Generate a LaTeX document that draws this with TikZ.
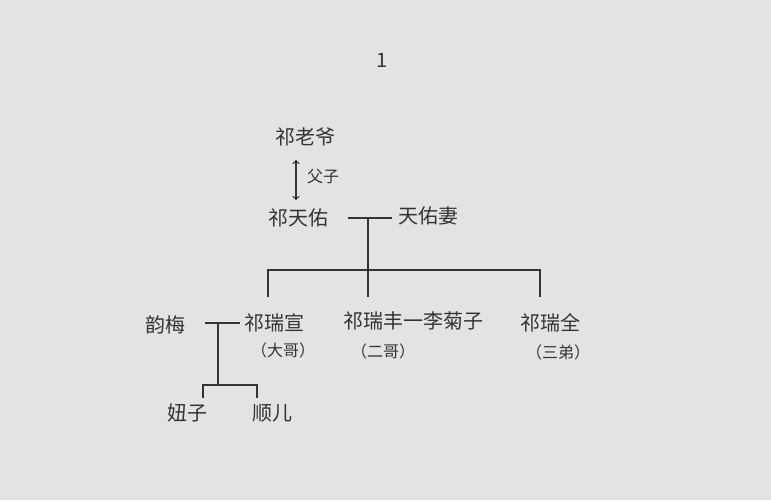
\documentclass[tikz,border=0pt]{standalone}
\usepackage{fontspec}
\newfontfamily\cjk{Noto Sans CJK SC}
\begin{document}
\begin{tikzpicture}[x=0.75pt,y=-0.75pt,
  lbl/.style={font=\cjk\fontsize{15}{17}\selectfont, text=black!80, inner sep=1pt},
  small/.style={font=\cjk\fontsize{12}{14}\selectfont, text=black!80, inner sep=1pt},
  ln/.style={draw=black!80, line width=1pt}]
\fill[gray!22] (0,0) rectangle (771,500);
\useasboundingbox (0,0) rectangle (771,500);
\node[lbl] (num) at (382,60) {1};
\node[lbl] (lao) at (305,137) {祁老爷};
\coordinate (a1) at (296,160);
\coordinate (a2) at (296,200);
\draw[ln,<->] (a1) -- (a2);
\node[small] (fz) at (323,176) {父子};
\node[lbl] (tianyou) at (298,218) {祁天佑};
\node[lbl] (qi) at (428,216) {天佑妻};
\coordinate (m1) at (348,218);
\coordinate (m2) at (392,218);
\draw[ln] (m1) -- (m2);
\coordinate (mid) at (368,218);
\coordinate (bar) at (368,270);
\draw[ln] (mid) -- (bar);
\node[lbl] (xuan) at (274,323) {祁瑞宣};
\node[small] (xuan2) at (283,350) {（大哥）};
\node[lbl] (feng) at (413,321) {祁瑞丰一李菊子};
\node[small] (feng2) at (383,351) {（二哥）};
\node[lbl] (quan) at (550,323) {祁瑞全};
\node[small] (quan2) at (558,352) {（三弟）};
\draw[ln] (268,297) -- (268,270) -- (540,270) -- (540,297);
\draw[ln] (bar) -- (368,297);
\node[lbl] (yun) at (165,325) {韵梅};
\coordinate (y1) at (205,323);
\coordinate (y2) at (240,323);
\draw[ln] (y1) -- (y2);
\coordinate (k1) at (218,323);
\coordinate (k2) at (218,385);
\draw[ln] (k1) -- (k2);
\node[lbl] (niu) at (187,413) {妞子};
\node[lbl] (shun) at (272,413) {顺儿};
\draw[ln] (203,398) -- (203,385) -- (257,385) -- (257,398);
\end{tikzpicture}
\end{document}
